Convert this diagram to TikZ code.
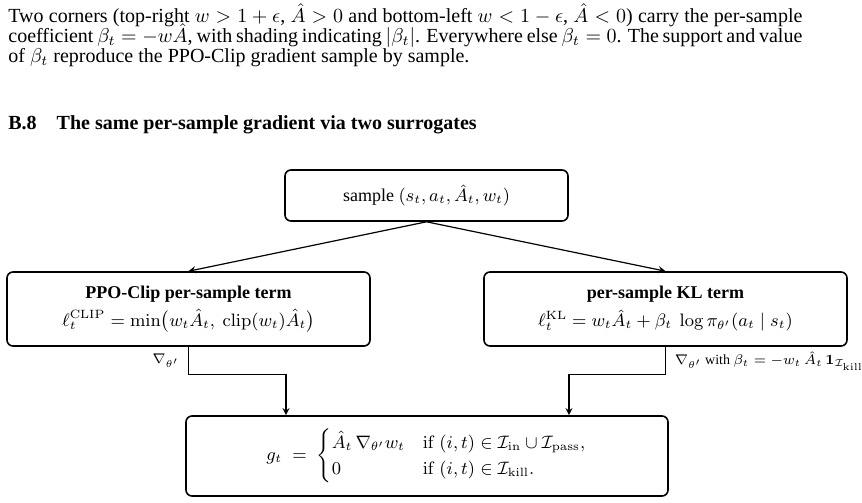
\documentclass[tikz,border=0pt]{standalone}
\usepackage{amsmath,amssymb}
\usepackage[no-math]{fontspec}
\setmainfont{Liberation Serif}

\begin{document}
\begin{tikzpicture}[x=0.5pt, y=-0.5pt]
\tikzset{ >=stealth, box/.style={draw, thick, rounded corners=3pt, align=center, inner sep=0pt, font=\small}, flow/.style={semithick} }

%\draw [lightgray, dashed](0,0) grid[step=20] (862,503);
\useasboundingbox (0,0) rectangle (862,503);

\node [anchor=north west, text width=397pt, align=justify, inner sep=0pt] (para) at (8,3)
  {\fontsize{10}{10}\selectfont\lineskiplimit=-4pt Two corners (top-right $w > 1+\epsilon$, $\hat{A} > 0$ and bottom-left $w < 1-\epsilon$, $\hat{A} < 0$) carry the per-sample\linebreak
   coefficient $\beta_t = -w\hat{A}$, with shading indicating $|\beta_t|$. Everywhere else $\beta_t = 0$. The support and value\linebreak
   of $\beta_t$ reproduce the PPO-Clip gradient sample by sample.\par};

\node [anchor=west, inner sep=0pt] (head) at (8,125) {\bfseries B.8\quad The same per-sample gradient via two surrogates};

\node [box, minimum width=141.5pt, minimum height=25.5pt] (smp) at (426.5,195.5) {sample $(s_t, a_t, \hat{A}_t, w_t)$};
\node [box, minimum width=181.5pt, minimum height=37pt] (clip) at (188.5,309)
  {\textbf{PPO-Clip per-sample term}\\[3pt] $\ell_t^{\mathrm{CLIP}} = \min\bigl(w_t\hat{A}_t,\ \mathrm{clip}(w_t)\hat{A}_t\bigr)$};
\node [box, minimum width=181.5pt, minimum height=37pt] (kl) at (665.5,309)
  {\textbf{per-sample KL term}\\[3pt] $\ell_t^{\mathrm{KL}} = w_t\hat{A}_t + \beta_t\ \log\pi_{\theta'}(a_t \mid s_t)$};
\node [box, minimum width=241pt, minimum height=40pt] (grad) at (427,456)
  {$g_t \;=\; \begin{cases} \hat{A}_t\,\nabla_{\theta'} w_t & \mathrm{if}\ (i,t) \in \mathcal{I}_{\mathrm{in}} \cup \mathcal{I}_{\mathrm{pass}},\\ 0 & \mathrm{if}\ (i,t) \in \mathcal{I}_{\mathrm{kill}}. \end{cases}$};

\draw [->, flow] (smp.south) -- (clip.north);
\draw [->, flow] (smp.south) -- (kl.north);

\draw [->, flow] (clip.south) -- ++(0,28) node [midway, left=1pt] {\scriptsize $\nabla_{\theta'}$} -| ([xshift=-70.5pt]grad.north);
\draw [->, flow] (kl.south) -- ++(0,28) node [midway, right=1pt] {\scriptsize $\nabla_{\theta'}$ with $\beta_t = -w_t\,\hat{A}_t\,\mathbf{1}_{\mathcal{I}_{\mathrm{kill}}}$} -| ([xshift=71pt]grad.north);

\end{tikzpicture}
\end{document}
